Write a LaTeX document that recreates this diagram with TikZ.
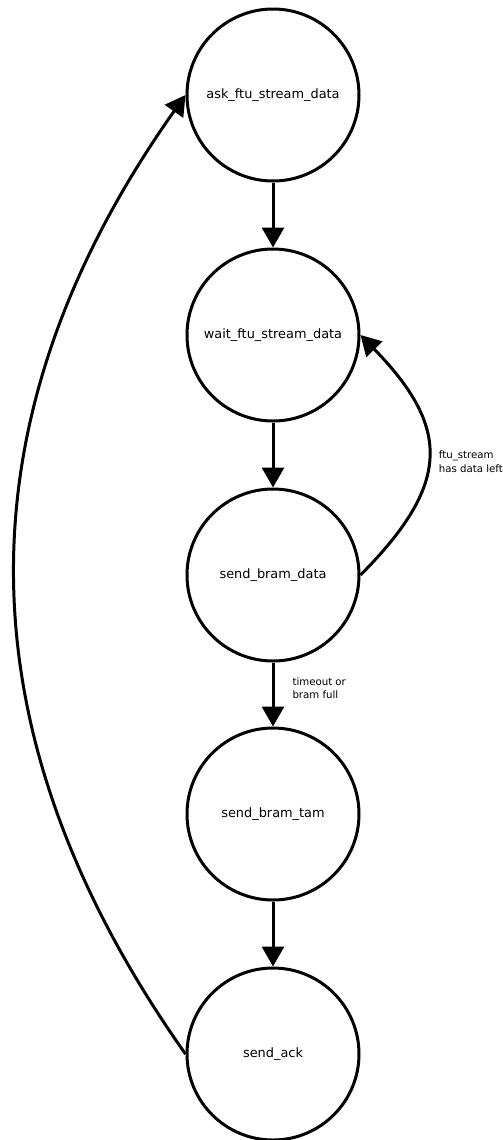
\documentclass[tikz,border=0pt]{standalone}
\usepackage{fontspec}
\setmainfont{DejaVu Sans}
\usetikzlibrary{arrows.meta}
\begin{document}
\begin{tikzpicture}[x=1bp,y=-1bp,
  state/.style={circle,draw,line width=3bp,minimum size=172bp,inner sep=0pt,
    font=\fontsize{12.9bp}{15bp}\selectfont},
  trans/.style={line width=3bp,-{Triangle[width=22bp,length=20bp]}},
  elabel/.style={inner sep=0pt,align=left,font=\fontsize{10.2bp}{13.5bp}\selectfont}]
  \useasboundingbox (0,0) rectangle (503,1140);

  % states of the streaming machine
  \node[state] (ask)  at (273,95)   {ask\_ftu\_stream\_data};
  \node[state] (wait) at (273,335)  {wait\_ftu\_stream\_data};
  \node[state] (sbd)  at (273,575)  {send\_bram\_data};
  \node[state] (sbt)  at (273,814)  {send\_bram\_tam};
  \node[state] (ack)  at (273,1054) {send\_ack};

  % straight transitions down the column
  \draw[trans] (ask.south) -- (wait.north);
  \draw[trans] (wait.south) -- (sbd.north);
  \draw[trans] (sbd.south) -- node[elabel,anchor=west,pos=0.4,xshift=18bp]{timeout or\\bram full} (sbt.north);
  \draw[trans] (sbt.south) -- (ack.north);

  % loop back while the stream still has data
  \draw[trans] (sbd.east) .. controls (451,484) and (451,428) ..
    node[elabel,anchor=west,pos=0.5,xshift=9bp,yshift=-6bp]{ftu\_stream\\has data left} (wait.east);

  % return to the start after the acknowledge
  \draw[trans] (ack.west) .. controls (-42,732) and (-42,417) .. (ask.west);
\end{tikzpicture}
\end{document}
